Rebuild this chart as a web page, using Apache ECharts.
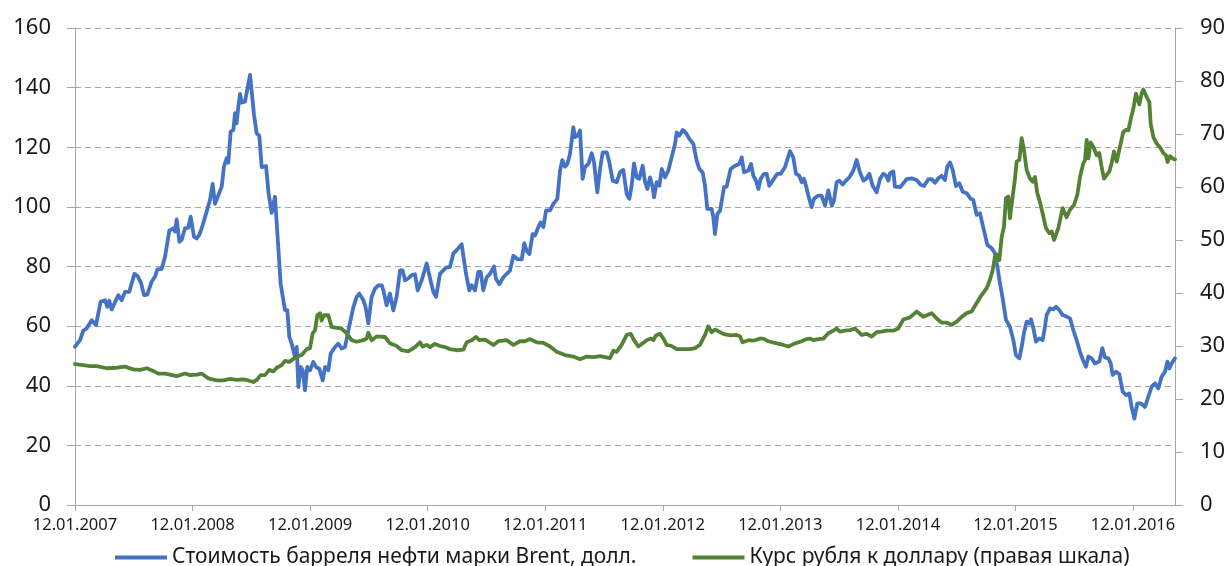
<!DOCTYPE html>
<html>
<head>
<meta charset="utf-8">
<title>Brent и курс рубля</title>
<script src="https://cdn.jsdelivr.net/npm/echarts@6/dist/echarts.min.js"></script>
<style>
html, body { margin: 0; padding: 0; background: #fff; }
#chart { width: 1231px; height: 566px; }
</style>
</head>
<body>
<div id="chart"></div>
<script>
// x values are decimal years (12.01.2007 = 2007.03)
var brentYears = [
  2007.030, 2007.073, 2007.101, 2007.129, 2007.172, 2007.209, 2007.248, 2007.285, 2007.305, 2007.322,
  2007.342, 2007.399, 2007.427, 2007.455, 2007.492, 2007.535, 2007.563, 2007.591, 2007.617, 2007.645,
  2007.682, 2007.713, 2007.730, 2007.767, 2007.796, 2007.832, 2007.866, 2007.881, 2007.895, 2007.918,
  2007.937, 2007.966, 2007.994, 2008.014, 2008.042, 2008.065, 2008.088, 2008.116, 2008.150, 2008.178,
  2008.201, 2008.221, 2008.258, 2008.278, 2008.297, 2008.320, 2008.334, 2008.354, 2008.377, 2008.391,
  2008.405, 2008.419, 2008.434, 2008.448, 2008.476, 2008.519, 2008.533, 2008.553, 2008.575, 2008.598,
  2008.618, 2008.655, 2008.677, 2008.703, 2008.731, 2008.759, 2008.779, 2008.816, 2008.836, 2008.853,
  2008.873, 2008.901, 2008.916, 2008.930, 2008.950, 2008.967, 2008.986, 2009.006, 2009.029, 2009.057,
  2009.080, 2009.108, 2009.137, 2009.157, 2009.185, 2009.205, 2009.242, 2009.270, 2009.298, 2009.327,
  2009.355, 2009.398, 2009.426, 2009.449, 2009.483, 2009.502, 2009.525, 2009.553, 2009.582, 2009.610,
  2009.639, 2009.653, 2009.681, 2009.709, 2009.738, 2009.766, 2009.795, 2009.817, 2009.837, 2009.865,
  2009.894, 2009.922, 2009.945, 2009.979, 2010.021, 2010.044, 2010.078, 2010.101, 2010.135, 2010.163,
  2010.186, 2010.220, 2010.248, 2010.277, 2010.319, 2010.333, 2010.356, 2010.384, 2010.404, 2010.433,
  2010.461, 2010.481, 2010.503, 2010.532, 2010.560, 2010.594, 2010.611, 2010.640, 2010.674, 2010.730,
  2010.759, 2010.793, 2010.830, 2010.852, 2010.872, 2010.895, 2010.923, 2010.943, 2010.971, 2010.991,
  2011.014, 2011.037, 2011.071, 2011.099, 2011.133, 2011.156, 2011.175, 2011.198, 2011.218, 2011.241,
  2011.269, 2011.283, 2011.306, 2011.326, 2011.348, 2011.368, 2011.397, 2011.425, 2011.445, 2011.473,
  2011.496, 2011.519, 2011.553, 2011.575, 2011.604, 2011.638, 2011.666, 2011.694, 2011.723, 2011.745,
  2011.765, 2011.785, 2011.808, 2011.830, 2011.859, 2011.879, 2011.899, 2011.921, 2011.944, 2011.955,
  2011.978, 2012.001, 2012.021, 2012.049, 2012.077, 2012.105, 2012.134, 2012.148, 2012.171, 2012.199,
  2012.228, 2012.256, 2012.290, 2012.318, 2012.341, 2012.369, 2012.389, 2012.409, 2012.426, 2012.446,
  2012.460, 2012.474, 2012.494, 2012.517, 2012.551, 2012.573, 2012.607, 2012.644, 2012.681, 2012.701,
  2012.721, 2012.758, 2012.780, 2012.800, 2012.823, 2012.843, 2012.862, 2012.891, 2012.913, 2012.936,
  2012.965, 2013.004, 2013.033, 2013.069, 2013.112, 2013.140, 2013.163, 2013.191, 2013.211, 2013.231,
  2013.248, 2013.268, 2013.296, 2013.316, 2013.353, 2013.381, 2013.410, 2013.438, 2013.467, 2013.486,
  2013.509, 2013.532, 2013.560, 2013.588, 2013.617, 2013.651, 2013.679, 2013.707, 2013.736, 2013.759,
  2013.787, 2013.815, 2013.849, 2013.878, 2013.906, 2013.929, 2013.949, 2013.963, 2013.991, 2014.005,
  2014.048, 2014.076, 2014.104, 2014.147, 2014.189, 2014.223, 2014.252, 2014.289, 2014.317, 2014.345,
  2014.374, 2014.402, 2014.430, 2014.450, 2014.473, 2014.496, 2014.524, 2014.552, 2014.581, 2014.615,
  2014.649, 2014.671, 2014.700, 2014.728, 2014.751, 2014.771, 2014.791, 2014.828, 2014.856, 2014.876,
  2014.898, 2014.921, 2014.949, 2014.983, 2015.012, 2015.034, 2015.063, 2015.083, 2015.102, 2015.125,
  2015.148, 2015.162, 2015.182, 2015.204, 2015.233, 2015.261, 2015.281, 2015.295, 2015.324, 2015.352,
  2015.375, 2015.403, 2015.431, 2015.465, 2015.494, 2015.522, 2015.550, 2015.579, 2015.601, 2015.630,
  2015.650, 2015.678, 2015.706, 2015.743, 2015.769, 2015.791, 2015.820, 2015.840, 2015.857, 2015.885,
  2015.913, 2015.942, 2015.970, 2015.998, 2016.018, 2016.041, 2016.066, 2016.095, 2016.132, 2016.160,
  2016.189, 2016.217, 2016.245, 2016.273, 2016.302, 2016.322, 2016.339, 2016.359, 2016.387
];
var brentPrice = [
  53.1, 55.3, 58.5, 59.2, 62.0, 60.4, 68.2, 68.7, 66.5, 68.5,
  65.6, 70.4, 68.7, 71.5, 71.5, 77.5, 76.8, 74.6, 70.4, 70.6,
  74.9, 76.8, 79.0, 79.2, 83.3, 92.0, 92.8, 91.7, 95.8, 88.3,
  88.9, 92.8, 93.0, 96.7, 90.0, 89.4, 90.6, 93.9, 98.4, 102.3,
  107.7, 101.0, 104.8, 106.8, 113.5, 116.3, 114.8, 125.2, 125.8, 131.4,
  128.0, 133.6, 137.9, 135.0, 135.3, 144.3, 144.3, 130.8, 124.7, 123.8,
  113.3, 113.7, 104.5, 98.0, 103.4, 86.6, 74.3, 65.4, 65.4, 56.4,
  54.1, 49.7, 53.0, 39.6, 46.3, 45.2, 38.5, 46.3, 45.2, 48.0,
  46.3, 45.7, 41.8, 46.3, 45.2, 50.8, 53.0, 54.1, 52.5, 53.0,
  58.6, 66.4, 69.8, 70.9, 68.7, 66.4, 60.9, 69.8, 72.6, 73.7,
  73.7, 72.0, 67.0, 70.9, 65.3, 69.8, 78.7, 78.7, 75.4, 76.0,
  77.1, 77.4, 72.0, 75.4, 81.0, 77.1, 71.5, 69.8, 77.6, 78.7,
  79.6, 79.9, 84.3, 85.5, 87.5, 87.1, 77.6, 72.0, 73.7, 72.0,
  78.2, 78.2, 72.0, 76.4, 77.5, 80.0, 75.8, 74.1, 76.4, 78.6,
  83.6, 82.5, 82.4, 87.8, 85.3, 84.2, 90.9, 90.4, 93.2, 94.8,
  93.2, 98.8, 98.8, 101.0, 102.7, 112.2, 115.7, 113.5, 114.4, 117.8,
  126.7, 123.4, 123.9, 125.6, 109.4, 113.3, 114.4, 118.0, 115.0, 104.9,
  112.7, 118.3, 118.3, 115.0, 108.8, 108.3, 111.6, 112.4, 104.3, 102.7,
  107.1, 114.6, 109.9, 109.4, 113.8, 108.3, 106.0, 109.9, 106.6, 103.2,
  108.3, 107.1, 112.7, 109.9, 112.2, 116.6, 121.1, 125.0, 123.9, 125.8,
  124.7, 122.8, 121.1, 115.5, 112.7, 111.6, 107.1, 99.3, 98.7, 99.3,
  96.5, 90.9, 97.6, 98.7, 106.6, 106.8, 112.7, 113.8, 114.4, 116.6,
  111.6, 112.2, 114.4, 110.5, 108.8, 106.0, 109.4, 111.1, 111.1, 107.1,
  108.8, 111.1, 111.1, 113.3, 118.7, 116.6, 111.1, 110.5, 108.3, 109.4,
  107.1, 103.8, 99.9, 102.7, 103.8, 103.8, 100.4, 105.5, 100.4, 102.1,
  108.3, 108.8, 107.5, 108.8, 109.9, 112.2, 115.7, 111.6, 108.8, 109.4,
  111.1, 107.1, 104.9, 109.4, 111.1, 110.5, 108.8, 111.3, 111.9, 106.8,
  106.6, 107.9, 109.3, 109.6, 109.0, 107.4, 107.0, 109.3, 109.3, 108.1,
  109.6, 110.4, 109.0, 113.5, 114.9, 112.4, 107.0, 107.9, 105.1, 104.6,
  102.7, 102.3, 97.3, 97.9, 93.9, 90.6, 87.2, 86.1, 84.4, 80.0,
  74.4, 69.3, 62.1, 59.8, 55.3, 50.3, 49.2, 53.1, 57.6, 61.5,
  60.9, 62.3, 59.3, 54.8, 55.9, 55.3, 59.8, 63.7, 66.0, 65.6,
  66.5, 65.4, 63.7, 63.2, 62.6, 58.7, 55.3, 51.4, 48.9, 46.4,
  49.8, 49.2, 47.5, 48.1, 52.6, 49.5, 49.2, 47.5, 43.6, 44.7,
  43.9, 38.0, 36.9, 37.4, 32.9, 29.0, 34.1, 34.1, 32.9, 36.3,
  39.7, 40.8, 39.1, 43.0, 44.7, 48.1, 45.8, 47.5, 49.2
];

var rubYears = [
  2007.030, 2007.101, 2007.158, 2007.214, 2007.299, 2007.384, 2007.455, 2007.526, 2007.583, 2007.640,
  2007.696, 2007.739, 2007.796, 2007.895, 2007.966, 2008.008, 2008.065, 2008.107, 2008.164, 2008.235,
  2008.292, 2008.349, 2008.405, 2008.462, 2008.504, 2008.547, 2008.575, 2008.609, 2008.646, 2008.683,
  2008.717, 2008.746, 2008.788, 2008.816, 2008.853, 2008.916, 2008.958, 2009.001, 2009.029, 2009.052,
  2009.072, 2009.091, 2009.114, 2009.128, 2009.148, 2009.185, 2009.213, 2009.256, 2009.298, 2009.341,
  2009.383, 2009.426, 2009.483, 2009.511, 2009.525, 2009.553, 2009.596, 2009.667, 2009.709, 2009.766,
  2009.809, 2009.865, 2009.922, 2009.965, 2009.987, 2010.021, 2010.050, 2010.092, 2010.135, 2010.177,
  2010.220, 2010.277, 2010.333, 2010.362, 2010.404, 2010.441, 2010.469, 2010.518, 2010.532, 2010.589,
  2010.631, 2010.702, 2010.759, 2010.815, 2010.858, 2010.900, 2010.957, 2011.014, 2011.071, 2011.127,
  2011.198, 2011.269, 2011.326, 2011.383, 2011.439, 2011.496, 2011.538, 2011.581, 2011.609, 2011.638,
  2011.680, 2011.723, 2011.757, 2011.785, 2011.822, 2011.865, 2011.893, 2011.927, 2011.950, 2011.972,
  2012.006, 2012.035, 2012.063, 2012.105, 2012.148, 2012.205, 2012.262, 2012.304, 2012.346, 2012.361,
  2012.389, 2012.417, 2012.446, 2012.474, 2012.502, 2012.545, 2012.602, 2012.658, 2012.687, 2012.709,
  2012.758, 2012.800, 2012.857, 2012.885, 2012.928, 2012.999, 2013.055, 2013.098, 2013.155, 2013.211,
  2013.254, 2013.282, 2013.311, 2013.353, 2013.396, 2013.438, 2013.481, 2013.509, 2013.537, 2013.580,
  2013.622, 2013.665, 2013.693, 2013.721, 2013.764, 2013.807, 2013.849, 2013.892, 2013.934, 2013.991,
  2014.033, 2014.076, 2014.133, 2014.189, 2014.246, 2014.317, 2014.360, 2014.402, 2014.445, 2014.487,
  2014.530, 2014.572, 2014.615, 2014.657, 2014.700, 2014.742, 2014.785, 2014.813, 2014.836, 2014.856,
  2014.876, 2014.893, 2014.913, 2014.932, 2014.949, 2014.969, 2014.983, 2015.006, 2015.026, 2015.040,
  2015.063, 2015.083, 2015.102, 2015.125, 2015.153, 2015.176, 2015.196, 2015.216, 2015.238, 2015.261,
  2015.290, 2015.318, 2015.338, 2015.358, 2015.375, 2015.394, 2015.431, 2015.465, 2015.494, 2015.528,
  2015.556, 2015.579, 2015.607, 2015.621, 2015.636, 2015.650, 2015.669, 2015.692, 2015.721, 2015.743,
  2015.763, 2015.783, 2015.800, 2015.828, 2015.848, 2015.868, 2015.891, 2015.919, 2015.947, 2015.970,
  2015.990, 2016.018, 2016.033, 2016.055, 2016.067, 2016.084, 2016.103, 2016.117, 2016.146, 2016.169,
  2016.180, 2016.203, 2016.231, 2016.259, 2016.288, 2016.310, 2016.324, 2016.344, 2016.373, 2016.387
];
var rubRate = [
  26.6, 26.4, 26.2, 26.2, 25.8, 25.9, 26.1, 25.6, 25.5, 25.8,
  25.3, 24.8, 24.8, 24.3, 24.8, 24.5, 24.6, 24.8, 23.9, 23.5,
  23.5, 23.8, 23.6, 23.7, 23.5, 23.2, 23.6, 24.5, 24.5, 25.5,
  25.2, 25.9, 26.4, 27.2, 27.0, 28.0, 28.3, 29.4, 29.6, 32.4,
  33.0, 35.8, 36.2, 34.8, 35.8, 35.8, 33.6, 33.4, 33.3, 32.4,
  31.1, 30.8, 31.1, 31.4, 32.5, 31.1, 31.8, 31.7, 30.5, 30.0,
  29.2, 29.0, 29.8, 30.7, 29.9, 30.2, 29.8, 30.4, 30.0, 29.8,
  29.4, 29.2, 29.3, 30.7, 31.1, 31.7, 31.1, 31.2, 30.9, 30.2,
  30.9, 31.1, 30.2, 30.9, 30.9, 31.3, 30.7, 30.6, 29.9, 28.9,
  28.3, 28.0, 27.5, 28.0, 27.9, 28.1, 27.9, 27.7, 29.1, 28.9,
  30.2, 32.1, 32.3, 31.1, 29.9, 30.6, 31.1, 31.4, 31.1, 32.0,
  32.3, 31.4, 30.2, 30.0, 29.4, 29.4, 29.4, 29.6, 30.2, 30.5,
  32.1, 33.7, 32.6, 33.1, 32.8, 32.3, 32.0, 32.1, 31.8, 30.7,
  31.1, 31.0, 31.4, 31.4, 30.9, 30.5, 30.2, 29.9, 30.5, 30.9,
  31.3, 31.4, 31.1, 31.3, 31.4, 32.4, 32.9, 33.3, 32.7, 32.9,
  33.0, 33.3, 32.7, 32.1, 32.3, 31.8, 32.6, 32.7, 32.9, 32.9,
  33.3, 35.0, 35.4, 36.5, 35.5, 36.2, 35.2, 34.4, 34.4, 34.0,
  34.6, 35.5, 36.2, 36.5, 38.1, 39.6, 40.9, 42.5, 44.3, 46.9,
  47.2, 46.2, 50.6, 52.5, 57.9, 58.2, 54.1, 58.2, 61.6, 64.8,
  65.1, 69.2, 67.0, 63.2, 61.6, 61.0, 61.9, 58.8, 57.2, 55.0,
  52.2, 51.3, 51.6, 50.0, 49.7, 52.2, 56.0, 54.3, 55.7, 56.6,
  58.5, 61.9, 64.5, 65.0, 68.9, 65.4, 68.4, 67.6, 66.0, 66.4,
  63.8, 61.6, 61.3, 62.9, 64.5, 66.7, 64.8, 67.6, 70.4, 70.8,
  70.7, 73.5, 74.8, 77.6, 77.9, 75.6, 77.6, 78.4, 77.0, 76.0,
  71.9, 69.4, 68.2, 67.5, 66.4, 66.0, 64.7, 65.8, 65.3, 65.2
];

var yearTicks = [2007.03, 2008.03, 2009.03, 2010.03, 2011.03, 2012.03, 2013.03, 2014.03, 2015.03, 2016.03];
var seriesNames = ['Стоимость барреля нефти марки Brent, долл.', 'Курс рубля к доллару (правая шкала)'];

function pairs(xs, ys) {
  return xs.map(function (x, i) { return [x, ys[i]]; });
}

var chart = echarts.init(document.getElementById('chart'));
var axisGray = '#a6a6a6';
var labelFont = 'Noto Sans';

chart.setOption({
  animation: false,
  textStyle: { fontFamily: labelFont },
  grid: { left: 75, right: 56, top: 28, bottom: 61 },
  legend: {
    left: 110,
    top: 542,
    icon: 'rect',
    itemWidth: 52,
    itemHeight: 4,
    itemGap: 56,
    textStyle: { fontSize: 21, color: '#1a1a1a', fontFamily: labelFont },
    data: seriesNames
  },
  xAxis: {
    type: 'value',
    min: 2007.03,
    max: 2016.387,
    axisLine: { show: true, onZero: false, lineStyle: { color: axisGray, width: 1 } },
    axisTick: { show: true, length: 6, customValues: yearTicks, lineStyle: { color: axisGray } },
    axisLabel: {
      customValues: yearTicks,
      margin: 12,
      fontSize: 16.5,
      color: '#1a1a1a',
      formatter: function (v) { return '12.01.' + Math.floor(v); }
    },
    splitLine: { show: false }
  },
  yAxis: [
    {
      type: 'value',
      min: 0,
      max: 160,
      interval: 20,
      axisLine: { show: true, lineStyle: { color: axisGray } },
      axisTick: { show: true, length: 8, lineStyle: { color: axisGray } },
      axisLabel: { fontSize: 22, margin: 24, color: '#1a1a1a' },
      splitLine: { show: true, lineStyle: { color: axisGray, type: [6, 4], width: 1 } }
    },
    {
      type: 'value',
      min: 0,
      max: 90,
      interval: 10,
      position: 'right',
      axisLine: { show: true, lineStyle: { color: axisGray } },
      axisTick: { show: true, length: 8, lineStyle: { color: axisGray } },
      axisLabel: { fontSize: 22, margin: 25, color: '#1a1a1a' },
      splitLine: { show: false }
    }
  ],
  series: [
    {
      name: seriesNames[0],
      type: 'line',
      yAxisIndex: 0,
      showSymbol: false,
      color: '#4472c4',
      lineStyle: { width: 3.8, cap: 'round', join: 'round' },
      data: pairs(brentYears, brentPrice)
    },
    {
      name: seriesNames[1],
      type: 'line',
      yAxisIndex: 1,
      showSymbol: false,
      color: '#548235',
      lineStyle: { width: 3.8, cap: 'round', join: 'round' },
      data: pairs(rubYears, rubRate)
    }
  ]
});
</script>
</body>
</html>
